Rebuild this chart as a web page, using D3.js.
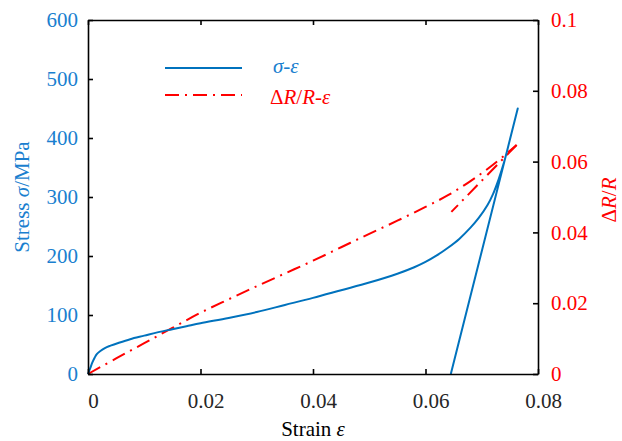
<!DOCTYPE html>
<html>
<head>
<meta charset="utf-8">
<script src="https://cdn.jsdelivr.net/npm/d3@7/dist/d3.min.js"></script>
<style>
  html, body { margin: 0; padding: 0; background: #fff; }
  svg { display: block; }
  svg text { font-family: "Liberation Serif", "DejaVu Serif", serif !important; }
</style>
</head>
<body>
<svg id="chart" width="622" height="441"></svg>
<script>
// Stress–strain loading curve (MPa vs strain)
const strainLoad = [0, 0.0004, 0.0008, 0.0012, 0.0016, 0.0022, 0.003, 0.004, 0.0055, 0.0075,
  0.01, 0.0125, 0.015, 0.0175, 0.02, 0.025, 0.03, 0.035, 0.04, 0.045, 0.05, 0.055,
  0.058, 0.06, 0.062, 0.064, 0.066, 0.068, 0.0695, 0.071, 0.072, 0.073, 0.074, 0.075, 0.0764];
const stressLoad = [0, 10, 20, 28, 34, 39, 44, 48, 53, 59,
  65, 71, 76, 81, 86, 95, 105, 117, 129, 142, 155, 170,
  181, 190, 201, 214, 229, 248, 265, 286, 305, 330, 360, 397, 450];
// Elastic unloading
const strainUnload = [0.0764, 0.0645];
const stressUnload = [450, 0];

// Relative resistance change ΔR/R vs strain
const strainRes = [0, 0.005, 0.01, 0.015, 0.02, 0.025, 0.03, 0.035, 0.04, 0.045, 0.05,
  0.055, 0.06, 0.064, 0.068, 0.072, 0.0762];
const resLoad = [0, 0.0044, 0.0087, 0.013, 0.0173, 0.0211, 0.0248, 0.0284, 0.032, 0.0358, 0.0396,
  0.0433, 0.0472, 0.0505, 0.0545, 0.0591, 0.0647];
const strainResUnload = [0.0762, 0.0646];
const resUnload = [0.0647, 0.0458];

// Tick values / labels
const xTicks = [0, 0.02, 0.04, 0.06, 0.08];
const xTickLabels = ["0", "0.02", "0.04", "0.06", "0.08"];
const yLeftTicks = [0, 100, 200, 300, 400, 500, 600];
const yRightTicks = [0, 0.02, 0.04, 0.06, 0.08, 0.1];
const yRightLabels = ["0", "0.02", "0.04", "0.06", "0.08", "0.1"];

const BLUE = "#0072BD";
const BLUE_TEXT = "#1a7fcf";
const RED = "#ff0000";
const FS = 21;
const FONT = "Liberation Serif, DejaVu Serif, serif";

const svg = d3.select("#chart").attr("font-family", FONT);
const L = 88, R = 538, T = 20, B = 374;

const x = d3.scaleLinear().domain([0, 0.08]).range([L, R]);
const yL = d3.scaleLinear().domain([0, 600]).range([B, T]);
const yR = d3.scaleLinear().domain([0, 0.1]).range([B, T]);

const zip = (a, b) => a.map((v, i) => [v, b[i]]);

const lineStress = d3.line().x(d => x(d[0])).y(d => yL(d[1])).curve(d3.curveCatmullRom.alpha(0.5));
const lineRes = d3.line().x(d => x(d[0])).y(d => yR(d[1])).curve(d3.curveCatmullRom.alpha(0.5));
const straightStress = d3.line().x(d => x(d[0])).y(d => yL(d[1]));
const straightRes = d3.line().x(d => x(d[0])).y(d => yR(d[1]));

const dashDot = "14,6,2,6";

// ΔR/R curve (dash-dot)
const plot = svg.append("g");
plot.append("path")
  .attr("d", lineRes(zip(strainRes, resLoad)))
  .attr("fill", "none").attr("stroke", RED).attr("stroke-width", 2)
  .attr("stroke-dasharray", dashDot);
plot.append("path")
  .attr("d", straightRes(zip(strainResUnload, resUnload)))
  .attr("fill", "none").attr("stroke", RED).attr("stroke-width", 2)
  .attr("stroke-dasharray", dashDot);

// stress curve: loading then unloading
plot.append("path")
  .attr("d", lineStress(zip(strainLoad, stressLoad)) + straightStress(zip(strainUnload, stressUnload)).replace(/^M/, "L"))
  .attr("fill", "none").attr("stroke", BLUE).attr("stroke-width", 2)
  .attr("stroke-linejoin", "round");

// axes
const styleAxis = (g, color) => {
  g.attr("font-family", FONT).attr("font-size", FS);
  g.select(".domain").attr("stroke", "#000").attr("stroke-width", 1.6);
  g.selectAll(".tick line").attr("stroke", "#000").attr("stroke-width", 1.6);
  g.selectAll(".tick text").attr("fill", color).attr("font-size", FS).attr("font-family", FONT);
};

const gx = svg.append("g").attr("transform", `translate(0,${B})`)
  .call(d3.axisBottom(x).tickValues(xTicks).tickFormat((d, i) => xTickLabels[i])
    .tickSizeInner(-5).tickSizeOuter(0).tickPadding(19));
styleAxis(gx, "#262626");
gx.selectAll(".tick text").attr("dx", 5);

const gxTop = svg.append("g").attr("transform", `translate(0,${T})`)
  .call(d3.axisTop(x).tickValues(xTicks).tickFormat("").tickSizeInner(-5).tickSizeOuter(0));
styleAxis(gxTop, "#000");

const gyL = svg.append("g").attr("transform", `translate(${L},0)`)
  .call(d3.axisLeft(yL).tickValues(yLeftTicks).tickFormat(d3.format("d"))
    .tickSizeInner(-5).tickSizeOuter(0).tickPadding(10));
styleAxis(gyL, BLUE_TEXT);

const gyR = svg.append("g").attr("transform", `translate(${R},0)`)
  .call(d3.axisRight(yR).tickValues(yRightTicks).tickFormat((d, i) => yRightLabels[i])
    .tickSizeInner(-5).tickSizeOuter(0).tickPadding(13));
styleAxis(gyR, RED);

// axis titles
const xt = svg.append("text").attr("x", (L + R) / 2).attr("y", 436)
  .attr("text-anchor", "middle").attr("font-size", FS).attr("fill", "#000");
xt.append("tspan").text("Strain ");
xt.append("tspan").attr("font-style", "italic").text("ε");

const ylt = svg.append("text")
  .attr("transform", `translate(29,${(T + B) / 2}) rotate(-90)`)
  .attr("text-anchor", "middle").attr("font-size", FS).attr("fill", BLUE_TEXT);
ylt.append("tspan").text("Stress ");
ylt.append("tspan").attr("font-style", "italic").text("σ");
ylt.append("tspan").text("/MPa");

const yrt = svg.append("text")
  .attr("transform", `translate(616,${(T + B) / 2 + 3}) rotate(-90)`)
  .attr("text-anchor", "middle").attr("font-size", FS).attr("fill", RED);
yrt.append("tspan").text("Δ");
yrt.append("tspan").attr("font-style", "italic").text("R");
yrt.append("tspan").text("/");
yrt.append("tspan").attr("font-style", "italic").text("R");

// legend
const lg = svg.append("g");
lg.append("line").attr("x1", 165).attr("x2", 242).attr("y1", 68).attr("y2", 68)
  .attr("stroke", BLUE).attr("stroke-width", 2);
lg.append("line").attr("x1", 165).attr("x2", 242).attr("y1", 95).attr("y2", 95)
  .attr("stroke", RED).attr("stroke-width", 2).attr("stroke-dasharray", dashDot);

const t1 = lg.append("text").attr("x", 273).attr("y", 73).attr("font-size", FS).attr("fill", BLUE_TEXT);
t1.append("tspan").attr("font-style", "italic").text("σ");
t1.append("tspan").text("-");
t1.append("tspan").attr("font-style", "italic").text("ε");

const t2 = lg.append("text").attr("x", 270).attr("y", 104).attr("font-size", FS).attr("fill", RED);
t2.append("tspan").text("Δ");
t2.append("tspan").attr("font-style", "italic").text("R");
t2.append("tspan").text("/");
t2.append("tspan").attr("font-style", "italic").text("R");
t2.append("tspan").text("-");
t2.append("tspan").attr("font-style", "italic").text("ε");
</script>
</body>
</html>
